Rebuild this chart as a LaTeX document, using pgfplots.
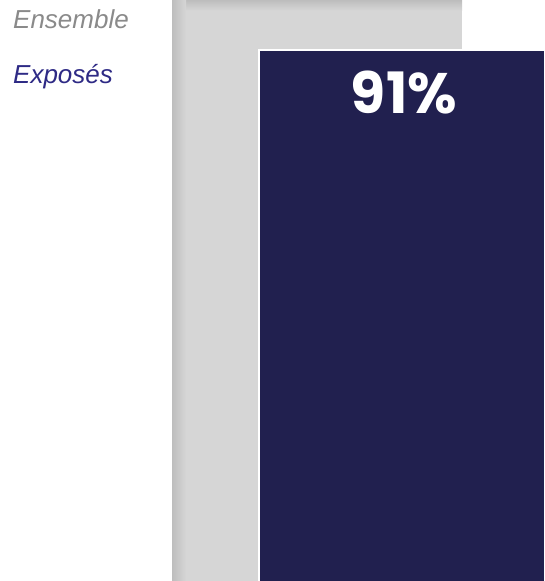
\documentclass[border=0pt]{standalone}
\usepackage{pgfplots}
\pgfplotsset{compat=1.18}
\usepackage{fontspec}
\setmainfont{Liberation Sans}
\newfontfamily\pop{Poppins}
\definecolor{barGray}{HTML}{D6D6D6}
\definecolor{shadowGray}{HTML}{BDBDBD}
\definecolor{navy}{HTML}{21204F}
\definecolor{txtGray}{HTML}{8A8A8A}
\definecolor{txtNavy}{HTML}{2E2A85}
\begin{document}
\begin{tikzpicture}
\begin{axis}[
  width=544pt, height=581pt, scale only axis,
  xmin=0, xmax=544, ymin=0, ymax=99.6,
  axis line style={draw=none}, xtick=\empty, ytick=\empty,
  clip=true,
]
% Ensemble (grey, cropped at top)
\addplot[ybar, bar shift=0pt, fill=barGray, draw=none, bar width=290] coordinates {(317,99.6)};
% shadow on top of grey bar
\addplot[draw=none, top color=shadowGray, bottom color=barGray] coordinates {(172,97.8) (172,99.6) (462,99.6) (462,97.8)} -- cycle;
% shadow strip on left edge of grey bar
\addplot[ybar, bar shift=0pt, draw=none, bar width=14, left color=shadowGray, right color=barGray] coordinates {(179,99.6)};
% Exposés (navy), cropped at right edge
\addplot[ybar, bar shift=0pt, fill=navy, draw=none, bar width=285] coordinates {(401.5,91)};
\addplot[white, line width=1.5pt] coordinates {(259,0) (259,91) (544,91)};
\node[anchor=base west, text=txtGray, font=\fontsize{26}{26}\selectfont\itshape, inner sep=0pt] at (axis cs:13,94.7) {Ensemble};
\node[anchor=base west, text=txtNavy, font=\fontsize{26}{26}\selectfont\itshape, inner sep=0pt] at (axis cs:13,85.3) {Exposés};
\node[text=white, font=\pop\bfseries\fontsize{57}{57}\selectfont, inner sep=0pt] at (axis cs:404,83.7) {91\%};
\end{axis}
\end{tikzpicture}
\end{document}
